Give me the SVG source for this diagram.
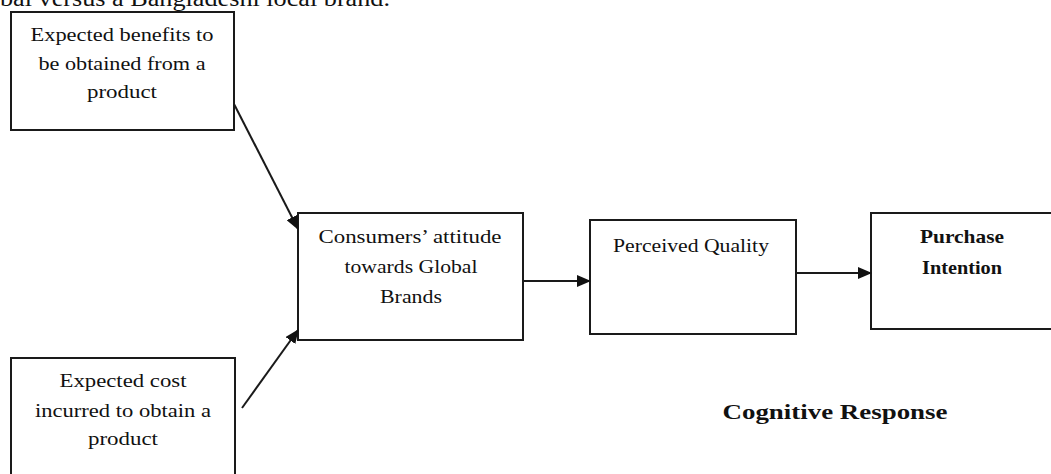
<svg xmlns="http://www.w3.org/2000/svg" width="1051" height="474" viewBox="0 0 1051 474">
<style>
.box{fill:#fff;stroke:#1a1a1a;stroke-width:2}
.t{font-family:"Liberation Serif","Times New Roman",serif;font-size:19px;fill:#111;text-anchor:middle}
.b{font-weight:bold}
.edge{stroke:#1a1a1a;stroke-width:2;fill:none;marker-end:url(#ah)}
</style>
<defs>
<marker id="ah" markerUnits="userSpaceOnUse" markerWidth="14" markerHeight="12" refX="13" refY="6" orient="auto">
<path d="M0,0 L14,6 L0,12 Z" fill="#111"/>
</marker>
</defs>
<rect width="1051" height="474" fill="#fff"/>
<text x="0" y="6" style="font-family:'Liberation Serif',serif;font-size:24px;fill:#111" textLength="390" lengthAdjust="spacingAndGlyphs">bal versus a Bangladeshi local brand.</text>
<g id="benefits">
<rect class="box" x="11" y="12" width="223" height="118"/>
<text class="t" x="122" y="41" textLength="183" lengthAdjust="spacingAndGlyphs">Expected benefits to</text>
<text class="t" x="122" y="70" textLength="167" lengthAdjust="spacingAndGlyphs">be obtained from a</text>
<text class="t" x="122" y="98" textLength="70" lengthAdjust="spacingAndGlyphs">product</text>
</g>
<g id="cost">
<rect class="box" x="11" y="358" width="224" height="130"/>
<text class="t" x="123" y="387" textLength="127" lengthAdjust="spacingAndGlyphs">Expected cost</text>
<text class="t" x="123" y="417" textLength="176" lengthAdjust="spacingAndGlyphs">incurred to obtain a</text>
<text class="t" x="123" y="445" textLength="70" lengthAdjust="spacingAndGlyphs">product</text>
</g>
<g id="attitude">
<rect class="box" x="298" y="213" width="225" height="127"/>
<text class="t" x="410" y="243" textLength="183" lengthAdjust="spacingAndGlyphs">Consumers’ attitude</text>
<text class="t" x="411" y="273" textLength="133" lengthAdjust="spacingAndGlyphs">towards Global</text>
<text class="t" x="411" y="303" textLength="62" lengthAdjust="spacingAndGlyphs">Brands</text>
</g>
<g id="quality">
<rect class="box" x="590" y="220" width="206" height="114"/>
<text class="t" x="691" y="252" textLength="156" lengthAdjust="spacingAndGlyphs">Perceived Quality</text>
</g>
<g id="intention">
<rect class="box" x="871" y="213" width="200" height="116"/>
<text class="t b" x="962" y="243" textLength="84" lengthAdjust="spacingAndGlyphs">Purchase</text>
<text class="t b" x="962" y="274" textLength="80" lengthAdjust="spacingAndGlyphs">Intention</text>
</g>
<g id="cognitive">
<text class="t b" x="835" y="419" style="font-size:22px" textLength="225" lengthAdjust="spacingAndGlyphs">Cognitive Response</text>
</g>
<g id="connectors">
<line class="edge" x1="234" y1="104" x2="298" y2="229"/>
<line class="edge" x1="242" y1="408" x2="298" y2="330"/>
<line class="edge" x1="523" y1="281" x2="590" y2="281"/>
<line class="edge" x1="796" y1="273" x2="871" y2="273"/>
</g>
</svg>
